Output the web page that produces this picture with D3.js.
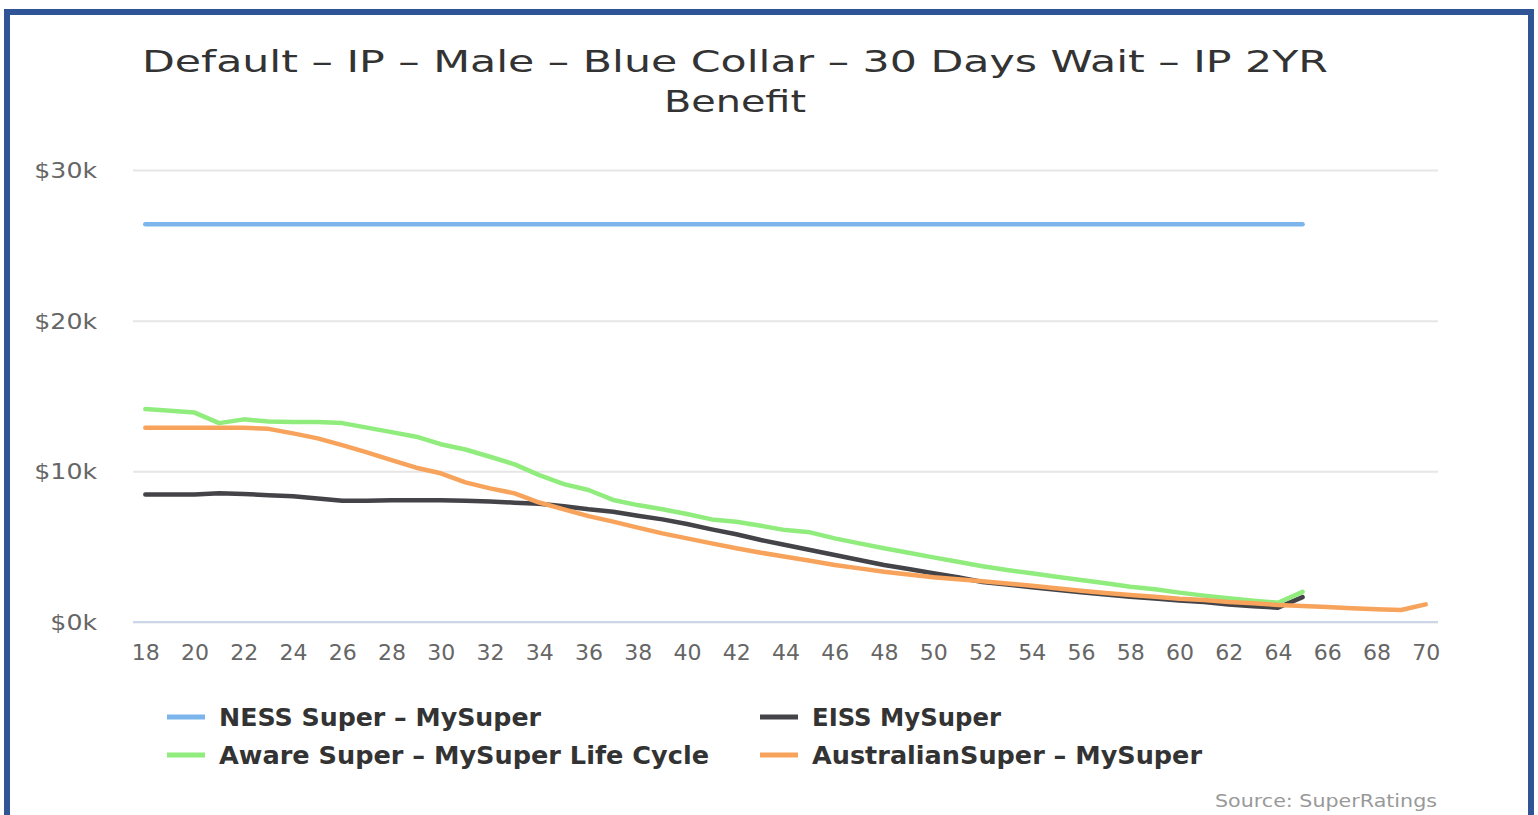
<!DOCTYPE html>
<html>
<head>
<meta charset="utf-8">
<script src="https://cdn.jsdelivr.net/npm/d3@7"></script>
<style>
  body { margin: 0; background: #fff; }
  svg { display: block; font-family: 'DejaVu Sans', sans-serif; }
</style>
</head>
<body>
<svg width="1538" height="815"></svg>
<script>
// Ages on the x axis (categories)
const ages = [18, 19, 20, 21, 22, 23, 24, 25, 26, 27, 28, 29, 30, 31, 32, 33, 34, 35, 36, 37, 38, 39, 40, 41, 42, 43, 44,
              45, 46, 47, 48, 49, 50, 51, 52, 53, 54, 55, 56, 57, 58, 59, 60, 61, 62, 63, 64, 65, 66, 67, 68, 69, 70];
const xTickLabels = [18, 20, 22, 24, 26, 28, 30, 32, 34, 36, 38, 40, 42, 44, 46, 48, 50, 52, 54, 56, 58, 60, 62, 64, 66, 68, 70];
const yTicks = [0, 10000, 20000, 30000];
const yTickLabels = ['$0k', '$10k', '$20k', '$30k'];

// Series values in $, one per age starting at 18
const nessValues = [26400, 26400, 26400, 26400, 26400, 26400, 26400, 26400, 26400, 26400, 26400, 26400, 26400, 26400, 26400, 26400,
                    26400, 26400, 26400, 26400, 26400, 26400, 26400, 26400, 26400, 26400, 26400, 26400, 26400, 26400, 26400, 26400,
                    26400, 26400, 26400, 26400, 26400, 26400, 26400, 26400, 26400, 26400, 26400, 26400, 26400, 26400, 26400, 26400];
const eissValues = [8470, 8470, 8470, 8550, 8500, 8420, 8350, 8200, 8050, 8050, 8080, 8080, 8080, 8050, 8000, 7920,
                    7850, 7680, 7480, 7320, 7050, 6810, 6500, 6150, 5820, 5440, 5110, 4780, 4450, 4110, 3780, 3520,
                    3230, 2970, 2650, 2480, 2310, 2140, 1980, 1820, 1680, 1560, 1430, 1320, 1160, 1050, 950, 1650];
const awareValues = [14130, 14020, 13900, 13200, 13450, 13300, 13280, 13280, 13200, 12900, 12600, 12300, 11800, 11450, 10970, 10460,
                     9750, 9150, 8760, 8100, 7760, 7480, 7170, 6810, 6660, 6390, 6100, 5950, 5550, 5220, 4890, 4600,
                     4290, 4000, 3700, 3450, 3230, 3000, 2790, 2570, 2340, 2170, 1950, 1750, 1570, 1410, 1280, 2000];
const australianValues = [12900, 12900, 12900, 12900, 12900, 12820, 12520, 12190, 11740, 11260, 10750, 10240, 9870, 9270, 8870, 8540,
                          7930, 7480, 7030, 6660, 6260, 5880, 5550, 5220, 4890, 4600, 4330, 4070, 3780, 3560, 3340, 3160,
                          2970, 2830, 2700, 2560, 2410, 2240, 2080, 1920, 1790, 1680, 1550, 1460, 1330, 1240, 1130, 1060,
                          990, 910, 840, 800, 1170];

const seriesNames = ['NESS Super – MySuper', 'EISS MySuper', 'Aware Super – MySuper Life Cycle', 'AustralianSuper – MySuper'];
const seriesColors = ['#7cb5ec', '#434348', '#90ed7d', '#f7a35c'];
const seriesValues = [nessValues, eissValues, awareValues, australianValues];

const svg = d3.select('svg');

// frame around the chart
const frameColor = '#2f5597';
svg.append('rect').attr('x', 4).attr('y', 9).attr('width', 1530).attr('height', 6).attr('fill', frameColor);
svg.append('rect').attr('x', 4).attr('y', 9).attr('width', 6).attr('height', 806).attr('fill', frameColor);
svg.append('rect').attr('x', 1528).attr('y', 9).attr('width', 6).attr('height', 806).attr('fill', frameColor);

// title, text is stretched a bit wide in the reference
svg.append('text')
    .attr('x', 142).attr('y', 72)
    .attr('font-size', 31).attr('fill', '#333')
    .attr('textLength', 1186).attr('lengthAdjust', 'spacingAndGlyphs')
    .text('Default – IP – Male – Blue Collar – 30 Days Wait – IP 2YR');
svg.append('text')
    .attr('x', 664).attr('y', 112)
    .attr('font-size', 31).attr('fill', '#333')
    .attr('textLength', 142).attr('lengthAdjust', 'spacingAndGlyphs')
    .text('Benefit');

const plot = { left: 133, right: 1438, top: 170, bottom: 622 };

const x = d3.scalePoint()
    .domain(ages)
    .range([plot.left, plot.right])
    .padding(0.5);

const y = d3.scaleLinear()
    .domain([0, 30000])
    .range([plot.bottom, plot.top]);

// y gridlines + labels
const yAxis = svg.append('g')
    .attr('transform', `translate(${plot.left},0)`)
    .call(d3.axisLeft(y)
        .tickValues(yTicks)
        .tickSize(-(plot.right - plot.left))
        .tickPadding(36)
        .tickFormat((d, i) => yTickLabels[i]));
yAxis.select('.domain').remove();
yAxis.selectAll('line').attr('stroke', '#e6e6e6').attr('stroke-width', 2);
yAxis.selectAll('text')
    .attr('font-size', 21).attr('fill', '#666')
    .attr('font-family', "'DejaVu Sans', sans-serif")
    .attr('dy', '0.36em')
    .each(function() {
        const t = d3.select(this);
        t.attr('textLength', this.getComputedTextLength() * 1.2).attr('lengthAdjust', 'spacingAndGlyphs');
    });

// x axis line
svg.append('line')
    .attr('x1', plot.left).attr('x2', plot.right)
    .attr('y1', plot.bottom).attr('y2', plot.bottom)
    .attr('stroke', '#ccd6eb').attr('stroke-width', 2);

const xAxis = svg.append('g')
    .attr('transform', `translate(0,${plot.bottom})`)
    .call(d3.axisBottom(x)
        .tickValues(xTickLabels)
        .tickSize(0)
        .tickPadding(22));
xAxis.select('.domain').remove();
xAxis.selectAll('text')
    .attr('font-size', 22).attr('fill', '#666')
    .attr('font-family', "'DejaVu Sans', sans-serif");

// lines
const line = d3.line()
    .defined(d => d.v != null)
    .x(d => x(d.age))
    .y(d => y(d.v));

seriesValues.forEach((vals, s) => {
    const data = vals.map((v, i) => ({ age: ages[i], v: v }));
    svg.append('path')
        .datum(data)
        .attr('fill', 'none')
        .attr('stroke', seriesColors[s])
        .attr('stroke-width', 4.5)
        .attr('stroke-linejoin', 'round')
        .attr('stroke-linecap', 'round')
        .attr('d', line);
});

// legend, 2 columns
const legendPos = [[167, 717], [760, 717], [167, 755], [760, 755]];
const legendWidths = [322, 189, 490, 390];
seriesNames.forEach((name, s) => {
    const [lx, ly] = legendPos[s];
    svg.append('line')
        .attr('x1', lx).attr('x2', lx + 38)
        .attr('y1', ly).attr('y2', ly)
        .attr('stroke', seriesColors[s]).attr('stroke-width', 5);
    svg.append('text')
        .attr('x', lx + 52).attr('y', ly + 9)
        .attr('font-size', 24).attr('font-weight', 'bold').attr('fill', '#333')
        .attr('textLength', legendWidths[s]).attr('lengthAdjust', 'spacingAndGlyphs')
        .text(name);
});

// credits
svg.append('text')
    .attr('x', 1215).attr('y', 807)
    .attr('font-size', 18).attr('fill', '#999')
    .attr('textLength', 222).attr('lengthAdjust', 'spacingAndGlyphs')
    .text('Source: SuperRatings');
</script>
</body>
</html>
